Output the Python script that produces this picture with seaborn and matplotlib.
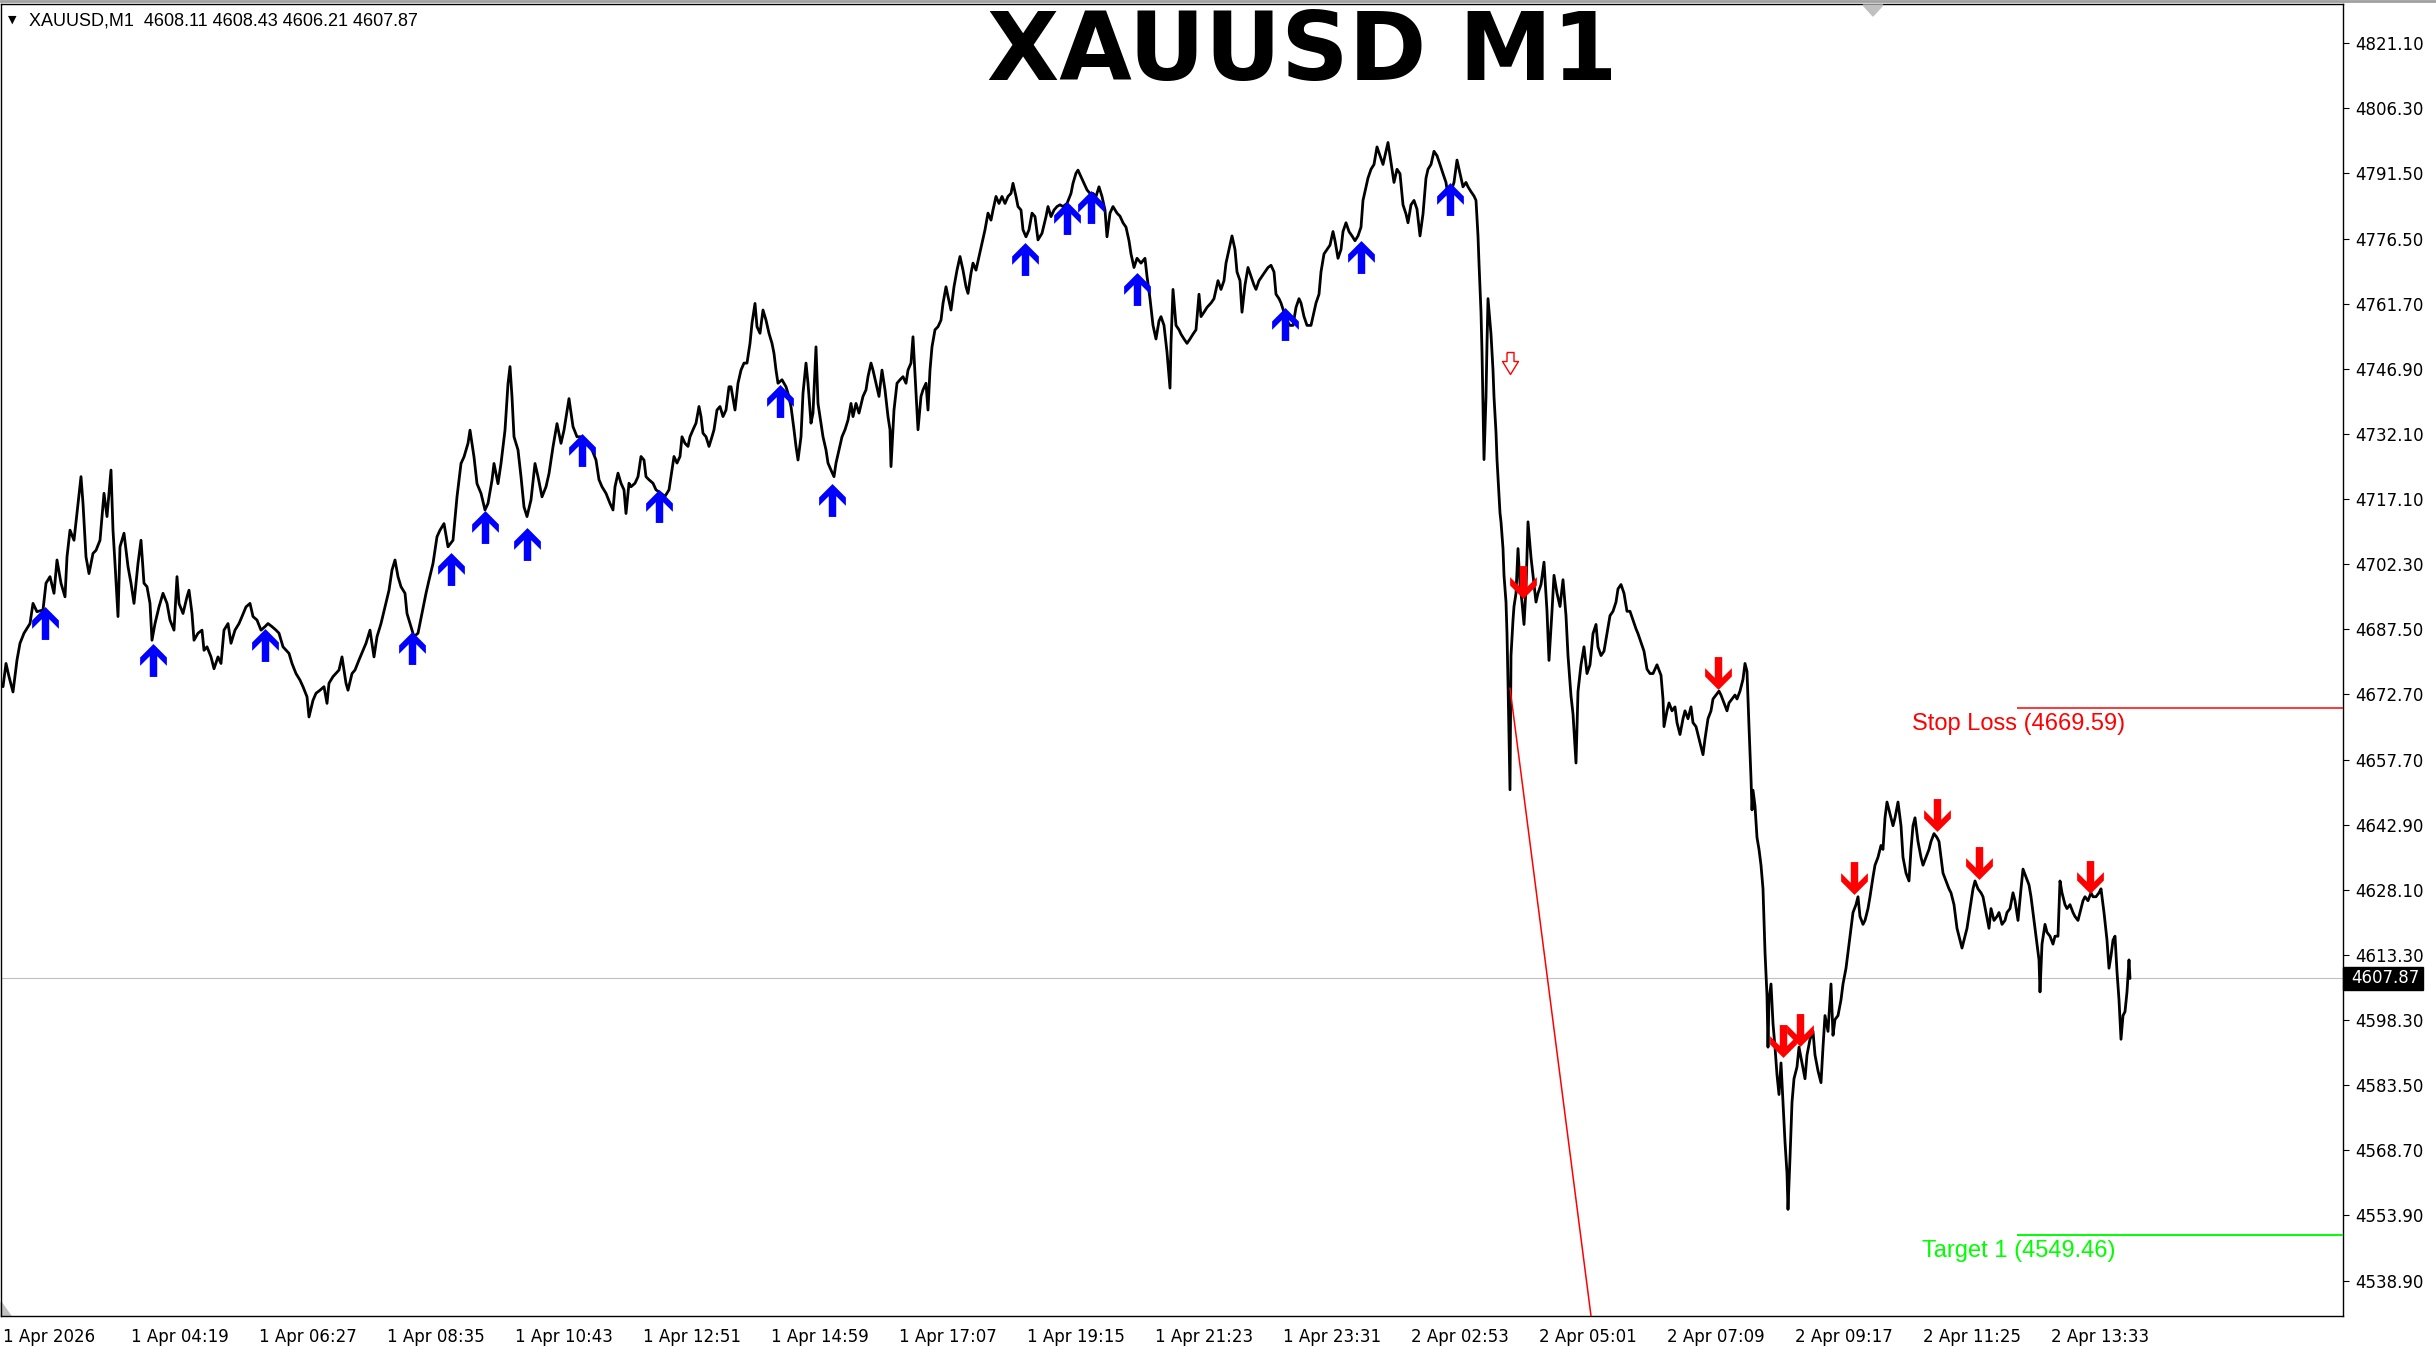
import numpy as np
import matplotlib
matplotlib.use("Agg")
import matplotlib.pyplot as plt
import matplotlib.transforms as mtransforms
from matplotlib.lines import Line2D
from matplotlib.patches import Rectangle, Polygon
import seaborn as sns

# M1 closes (x = bar index, one bar per minute)
bars_a = [0, 3, 6, 10, 14, 17, 21, 27, 30, 34, 40, 43, 47, 51, 54, 58, 62, 64, 67, 71, 75, 78, 80, 83, 86,
          90, 93, 97, 101, 104, 108, 110, 112, 115, 117, 121, 125, 128, 131, 135, 138, 141, 144, 147, 149,
          152, 156, 160, 164, 167, 171, 174, 176, 180, 184, 186, 189, 191, 195, 199, 201, 204, 208, 211,
          215, 218, 221, 225, 228, 232, 236, 239, 243, 247, 250, 254, 258, 262, 265, 269, 273, 276, 280,
          286, 289, 293, 297, 300, 304, 306, 310, 313, 317, 321, 324, 326, 330, 336, 339, 343, 345, 349,
          352, 356, 360, 363, 367, 371, 374, 378, 382, 386, 389, 392, 395, 398, 402, 404, 408, 411, 415,
          419, 423, 426, 430, 434, 437, 441, 445, 450, 454, 458, 461, 465, 467, 471, 474, 478, 482, 485,
          489, 491, 495, 498, 502, 505, 507, 509, 511, 515, 518, 521, 524, 528, 532, 535, 539, 543, 546,
          550, 554, 558, 561, 566, 570, 574]
price_a = [4674.4, 4679.7, 4676.7, 4673.2, 4680.5, 4684.3, 4686.6, 4688.8, 4693.4, 4691.5, 4691.9, 4698.0,
           4699.5, 4695.7, 4703.3, 4698.0, 4694.9, 4704.0, 4710.1, 4707.8, 4716.2, 4722.3, 4716.2, 4704.0,
           4700.2, 4704.8, 4705.5, 4707.8, 4718.5, 4713.2, 4723.8, 4710.1, 4702.5, 4690.4, 4706.3, 4709.4,
           4701.8, 4698.0, 4693.4, 4702.5, 4707.8, 4698.0, 4697.2, 4693.4, 4685.0, 4688.8, 4692.6, 4695.7,
           4693.4, 4689.6, 4687.3, 4699.5, 4693.4, 4691.1, 4694.9, 4696.4, 4691.1, 4685.0, 4686.6, 4687.3,
           4682.7, 4683.5, 4681.2, 4678.5, 4681.2, 4679.7, 4687.3, 4688.8, 4684.3, 4687.3, 4688.8, 4690.4,
           4692.6, 4693.4, 4690.4, 4689.6, 4687.3, 4688.1, 4688.8, 4688.1, 4687.3, 4686.6, 4683.5, 4682.0,
           4679.7, 4677.4, 4675.9, 4674.4, 4672.1, 4667.5, 4671.3, 4672.9, 4673.6, 4674.4, 4670.6, 4675.2,
           4676.7, 4678.2, 4681.2, 4675.2, 4673.6, 4677.4, 4678.2, 4680.5, 4682.7, 4684.3, 4687.3, 4681.2,
           4685.8, 4688.8, 4692.6, 4696.4, 4701.0, 4703.3, 4699.5, 4697.2, 4695.7, 4691.1, 4688.1, 4685.8,
           4686.6, 4691.1, 4695.7, 4698.7, 4702.5, 4708.6, 4710.1, 4711.6, 4706.3, 4707.8, 4717.7, 4725.3,
           4726.8, 4729.9, 4732.9, 4726.8, 4720.7, 4718.5, 4714.7, 4716.2, 4721.5, 4725.3, 4720.7, 4725.3,
           4732.9, 4743.5, 4747.4, 4740.5, 4731.4, 4728.4, 4722.3, 4715.4, 4713.2, 4717.0, 4725.3, 4722.3,
           4717.7, 4720.0, 4723.0, 4729.1, 4734.4, 4729.9, 4732.9, 4740.1, 4733.7, 4731.4]

bars_b = [578, 584, 589, 593, 596, 599, 603, 607, 610, 612, 615, 618, 621, 623, 626, 628, 632, 635, 638,
          641, 643, 646, 650, 653, 658, 662, 666, 668, 671, 674, 677, 679, 682, 685, 687, 690, 693, 696,
          698, 700, 703, 706, 709, 711, 714, 717, 720, 723, 726, 728, 732, 735, 738, 741, 744, 747, 749,
          752, 754, 757, 760, 763, 766, 769, 771, 773, 775, 779, 783, 785, 788, 791, 793, 795, 798, 800,
          803, 805, 808, 810, 813, 815, 818, 820, 823, 825, 828, 831, 833, 836, 839, 842, 845, 848, 850,
          853, 856, 860, 863, 865, 868, 870, 873, 876, 879, 882, 885, 887, 888, 891, 894, 897, 900, 903,
          905, 908, 910, 913, 915, 918, 920, 923, 925, 927, 929, 932, 935, 938, 940, 943, 945, 948, 951,
          954, 957, 960, 963, 965, 968, 970, 973, 976, 979, 982, 985, 988, 990, 993, 996, 999, 1002, 1005,
          1008, 1010, 1013, 1015, 1018, 1020, 1023, 1026, 1029, 1032, 1035, 1039, 1043, 1045, 1048, 1051,
          1054, 1057, 1060, 1064, 1068, 1070, 1073, 1075, 1078, 1081, 1084, 1087, 1090, 1093, 1096, 1099,
          1102, 1104, 1107, 1110, 1114]
price_b = [4731.4, 4729.9, 4728.4, 4726.1, 4721.6, 4720.0, 4718.5, 4716.2, 4714.7, 4720.0, 4723.1, 4720.8,
           4719.3, 4713.9, 4720.8, 4720.0, 4720.8, 4722.3, 4726.9, 4726.1, 4722.3, 4721.6, 4720.8, 4719.3,
           4718.5, 4717.8, 4719.3, 4722.3, 4726.9, 4725.4, 4726.9, 4731.4, 4729.9, 4729.2, 4731.4, 4733.0,
           4734.5, 4738.3, 4736.0, 4732.2, 4731.4, 4729.2, 4731.4, 4733.0, 4737.5, 4738.3, 4736.0, 4737.5,
           4742.8, 4742.8, 4737.5, 4743.6, 4746.6, 4748.2, 4748.2, 4752.7, 4757.3, 4761.8, 4756.5, 4755.0,
           4760.3, 4758.0, 4755.0, 4752.7, 4750.4, 4746.6, 4743.6, 4744.4, 4742.8, 4741.3, 4738.3, 4733.0,
           4729.2, 4726.1, 4731.4, 4741.3, 4748.2, 4743.6, 4734.5, 4736.8, 4751.9, 4739.0, 4734.5, 4731.4,
           4728.4, 4725.4, 4723.8, 4722.3, 4725.4, 4728.4, 4731.4, 4733.0, 4735.2, 4739.0, 4736.0, 4739.0,
           4736.8, 4740.6, 4742.1, 4745.1, 4748.2, 4746.6, 4743.6, 4740.6, 4746.6, 4742.1, 4736.0, 4733.0,
           4724.6, 4737.5, 4743.6, 4744.4, 4745.1, 4743.6, 4746.6, 4748.2, 4754.2, 4741.3, 4733.0, 4740.6,
           4742.1, 4743.6, 4737.5, 4746.6, 4751.9, 4755.8, 4756.5, 4758.0, 4761.8, 4765.6, 4763.4, 4760.3,
           4765.6, 4769.4, 4772.5, 4769.4, 4765.6, 4764.1, 4768.7, 4771.0, 4769.4, 4772.5, 4775.5, 4778.6,
           4782.4, 4780.8, 4783.1, 4786.2, 4784.6, 4786.2, 4784.6, 4786.2, 4786.9, 4789.2, 4786.2, 4783.9,
           4783.1, 4778.6, 4777.0, 4778.6, 4782.4, 4781.6, 4776.3, 4777.8, 4781.6, 4783.9, 4781.6, 4783.1,
           4783.9, 4784.3, 4783.9, 4784.6, 4786.9, 4789.2, 4791.5, 4792.2, 4790.7, 4789.2, 4787.7, 4786.9,
           4786.9, 4786.2, 4788.4, 4786.2, 4783.1, 4777.0, 4782.4, 4783.9, 4782.4]

bars_c = [1117, 1120, 1123, 1126, 1128, 1131, 1134, 1138, 1142, 1144, 1147, 1150, 1153, 1156, 1158, 1161,
          1164, 1167, 1168, 1170, 1173, 1176, 1178, 1181, 1184, 1187, 1190, 1193, 1196, 1198, 1201, 1204,
          1208, 1211, 1215, 1218, 1221, 1223, 1226, 1229, 1232, 1234, 1237, 1239, 1242, 1245, 1248, 1251,
          1253, 1256, 1259, 1262, 1265, 1268, 1271, 1273, 1276, 1278, 1281, 1284, 1287, 1290, 1293, 1296,
          1298, 1301, 1304, 1308, 1310, 1313, 1316, 1318, 1321, 1324, 1327, 1330, 1332, 1335, 1338, 1340,
          1343, 1346, 1349, 1352, 1355, 1358, 1360, 1363, 1365, 1368, 1371, 1374, 1377, 1380, 1383, 1385,
          1387, 1389, 1391, 1394, 1397, 1400, 1403, 1405, 1408, 1411, 1414, 1417, 1420, 1423, 1425, 1428,
          1431, 1434, 1437, 1440, 1443, 1445, 1448, 1451, 1454, 1457, 1460, 1463, 1465, 1468, 1471, 1473,
          1475, 1476, 1478, 1479, 1480, 1481, 1483, 1484, 1485, 1488, 1490, 1491, 1493, 1494, 1495, 1497,
          1498, 1500, 1501, 1503, 1504, 1505, 1507, 1508, 1510, 1511, 1513, 1515, 1517, 1519, 1521, 1523,
          1525, 1528, 1530, 1533, 1535, 1538, 1541, 1544, 1546, 1549, 1551, 1554, 1557, 1560, 1563, 1565,
          1568, 1570, 1573, 1575, 1578, 1581, 1584, 1587, 1590, 1593, 1595, 1598, 1601, 1604, 1607, 1610,
          1613, 1615, 1618, 1621, 1624, 1627, 1630, 1633, 1635, 1638, 1641, 1644, 1647, 1650, 1654]
price_c = [4781.7, 4780.2, 4779.2, 4776.1, 4773.1, 4770.0, 4772.1, 4771.0, 4772.1, 4768.0, 4762.9, 4756.8,
           4753.7, 4757.8, 4758.8, 4756.8, 4750.7, 4742.5, 4752.7, 4765.0, 4756.8, 4755.8, 4754.8, 4753.7,
           4752.7, 4753.7, 4754.8, 4755.8, 4763.9, 4758.8, 4759.8, 4760.9, 4761.9, 4762.9, 4767.0, 4765.0,
           4767.0, 4771.0, 4774.1, 4777.2, 4774.1, 4769.0, 4767.0, 4759.8, 4766.0, 4770.0, 4768.0, 4766.0,
           4765.0, 4767.0, 4768.0, 4769.0, 4770.0, 4770.5, 4769.0, 4763.9, 4762.9, 4761.9, 4759.8, 4757.8,
           4756.8, 4756.8, 4760.9, 4762.9, 4761.9, 4758.8, 4756.8, 4756.8, 4758.8, 4761.9, 4763.9, 4769.0,
           4773.1, 4774.1, 4775.1, 4778.2, 4776.1, 4772.1, 4774.1, 4778.2, 4780.2, 4778.2, 4777.2, 4776.1,
           4777.2, 4779.2, 4785.3, 4788.4, 4790.4, 4792.4, 4793.5, 4797.5, 4795.5, 4793.5, 4796.5, 4798.5,
           4795.5, 4792.4, 4789.4, 4792.4, 4791.4, 4784.3, 4782.2, 4780.2, 4784.3, 4785.3, 4783.3, 4777.2,
           4782.2, 4790.4, 4792.4, 4793.5, 4796.5, 4795.5, 4793.5, 4791.4, 4789.4, 4786.3, 4787.3, 4789.4,
           4794.5, 4791.4, 4788.4, 4789.4, 4788.4, 4787.3, 4786.3, 4785.3, 4777.2, 4771.0, 4759.8, 4750.7,
           4738.5, 4726.2, 4740.5, 4752.7, 4762.9, 4754.8, 4746.6, 4740.5, 4732.4, 4726.2, 4722.2, 4714.0,
           4712.0, 4705.9, 4699.8, 4693.7, 4686.5, 4675.4, 4650.9, 4681.5, 4689.6, 4692.7, 4695.7, 4705.9,
           4697.7, 4693.7, 4688.6, 4696.7, 4712.0, 4703.9, 4699.8, 4693.7, 4695.7, 4697.7, 4702.8, 4691.6,
           4680.4, 4691.6, 4699.8, 4695.7, 4692.7, 4698.8, 4690.6, 4681.5, 4672.3, 4668.2, 4657.0, 4673.3,
           4679.4, 4683.5, 4677.4, 4679.4, 4686.5, 4688.6, 4683.5, 4681.5, 4682.5, 4686.5, 4690.6, 4691.6,
           4693.7, 4696.7, 4697.7, 4695.7, 4691.6, 4691.6, 4689.6, 4687.6, 4686.5, 4684.5, 4682.5, 4678.4,
           4677.4, 4677.4, 4679.4]

bars_d = [1658, 1660, 1661, 1664, 1666, 1669, 1672, 1674, 1677, 1680, 1682, 1685, 1688, 1690, 1693, 1696,
          1698, 1700, 1702, 1705, 1708, 1710, 1713, 1716, 1718, 1721, 1724, 1726, 1729, 1732, 1734, 1737,
          1740, 1742, 1744, 1745, 1746, 1748, 1749, 1750, 1752, 1754, 1756, 1758, 1760, 1761, 1762, 1764,
          1765, 1766, 1768, 1770, 1772, 1774, 1776, 1778, 1780, 1782, 1784, 1785, 1787, 1789, 1791, 1794,
          1796, 1799, 1802, 1804, 1807, 1810, 1812, 1815, 1818, 1820, 1822, 1825, 1828, 1830, 1832, 1835,
          1838, 1840, 1843, 1846, 1848, 1850, 1853, 1855, 1857, 1860, 1862, 1865, 1867, 1870, 1872, 1875,
          1878, 1880, 1882, 1884, 1887, 1890, 1892, 1895, 1898, 1900, 1903, 1906, 1908, 1910, 1912, 1915,
          1918, 1920, 1923, 1926, 1928, 1931, 1934, 1936, 1938, 1940, 1943, 1946, 1948, 1951, 1954, 1956,
          1959, 1962, 1964, 1967, 1970, 1972, 1975, 1978, 1980, 1983, 1986, 1988, 1991, 1994, 1996, 1999,
          2002, 2004, 2007, 2010, 2012, 2015, 2018, 2020, 2023, 2026, 2028, 2031, 2034, 2036, 2037, 2039,
          2042, 2044, 2047, 2050, 2052, 2055, 2057, 2059, 2062, 2064, 2067, 2070, 2072, 2075, 2077, 2080,
          2082, 2085, 2088, 2090, 2093, 2096, 2098, 2101, 2104, 2106, 2108, 2110, 2112, 2114, 2116, 2118,
          2120, 2122, 2124, 2126, 2127]
price_d = [4677.0, 4671.6, 4665.3, 4668.9, 4670.7, 4668.9, 4669.8, 4666.2, 4663.5, 4667.1, 4668.9, 4667.1,
           4669.8, 4666.2, 4665.3, 4662.5, 4660.7, 4658.9, 4662.5, 4667.1, 4668.9, 4671.6, 4672.5, 4673.4,
           4672.5, 4670.7, 4668.9, 4670.7, 4671.6, 4672.5, 4671.6, 4673.4, 4676.1, 4679.7, 4677.9, 4671.6,
           4665.3, 4653.5, 4646.3, 4650.8, 4647.2, 4640.0, 4637.3, 4633.7, 4628.3, 4621.1, 4613.9, 4603.9,
           4592.2, 4603.0, 4606.6, 4597.6, 4592.2, 4585.9, 4581.4, 4588.6, 4579.6, 4570.6, 4563.4, 4555.2,
           4567.0, 4579.6, 4585.0, 4587.7, 4592.2, 4588.6, 4585.0, 4590.4, 4594.0, 4595.8, 4590.4, 4586.8,
           4584.1, 4592.2, 4599.4, 4595.8, 4606.6, 4594.9, 4598.5, 4599.4, 4603.0, 4606.6, 4610.2, 4615.7,
           4619.3, 4622.9, 4624.7, 4626.5, 4622.0, 4620.2, 4621.1, 4623.8, 4626.5, 4631.0, 4633.7, 4635.5,
           4638.2, 4637.3, 4644.5, 4648.1, 4645.4, 4642.7, 4644.5, 4648.1, 4642.7, 4635.5, 4631.9, 4630.1,
           4637.3, 4642.7, 4644.5, 4639.1, 4635.5, 4633.7, 4635.5, 4637.3, 4639.1, 4640.9, 4640.0, 4639.1,
           4635.5, 4631.9, 4630.1, 4628.3, 4627.4, 4624.7, 4619.3, 4617.5, 4614.8, 4617.5, 4619.3, 4623.8,
           4628.3, 4630.1, 4628.3, 4627.4, 4626.5, 4622.9, 4619.3, 4623.8, 4621.1, 4622.0, 4622.9, 4620.2,
           4621.1, 4622.9, 4623.8, 4627.4, 4625.6, 4621.1, 4628.3, 4632.8, 4631.0, 4629.2, 4626.5, 4621.1,
           4615.7, 4612.1, 4604.8, 4615.7, 4620.2, 4618.4, 4617.5, 4615.7, 4617.5, 4617.5, 4630.1, 4627.4,
           4624.7, 4623.8, 4624.7, 4622.9, 4622.0, 4621.1, 4622.9, 4625.6, 4626.5, 4625.6, 4627.4, 4626.5,
           4626.5, 4627.4, 4628.3, 4622.9, 4616.6, 4610.2, 4613.0, 4616.6, 4617.5, 4609.4, 4603.0, 4594.0,
           4599.4, 4600.3, 4604.8, 4612.1, 4607.87]

# buy / sell signal arrows
up_bar = [42, 150, 262, 409, 448, 482, 524, 579, 656, 777, 829, 1022, 1064, 1088, 1134, 1282, 1358, 1447]
up_price = [4688.9, 4680.5, 4683.9, 4683.2, 4701.2, 4710.8, 4706.9, 4728.3, 4715.6, 4739.6, 4717.0,
            4771.9, 4781.4, 4783.7, 4765.0, 4757.1, 4772.4, 4785.6]
down_bar = [1520, 1715, 1780, 1797, 1851, 1934, 1976, 2087]
down_price = [4698.3, 4677.6, 4593.5, 4596.1, 4630.7, 4645.1, 4634.3, 4631.0]
hollow_bar = [1507]
hollow_price = [4748.3]

# trend line and levels
trend_bar = [1507, 1600]
trend_price = [4674.1, 4509.7]
stop_loss = 4669.59
target_1 = 4549.46
level_start_bar = 2014
header_ohlc = [4608.11, 4608.43, 4606.21, 4607.87]
last_close = 4607.87

y_ticks = [4821.10, 4806.30, 4791.50, 4776.50, 4761.70, 4746.90, 4732.10, 4717.10, 4702.30, 4687.50,
           4672.70, 4657.70, 4642.90, 4628.10, 4613.30, 4598.30, 4583.50, 4568.70, 4553.90, 4538.90]
x_labels = ["1 Apr 2026", "1 Apr 04:19", "1 Apr 06:27", "1 Apr 08:35", "1 Apr 10:43", "1 Apr 12:51",
            "1 Apr 14:59", "1 Apr 17:07", "1 Apr 19:15", "1 Apr 21:23", "1 Apr 23:31", "2 Apr 02:53",
            "2 Apr 05:01", "2 Apr 07:09", "2 Apr 09:17", "2 Apr 11:25", "2 Apr 13:33"]
label_step = 128

bars = bars_a + bars_b + bars_c + bars_d
prices = price_a + price_b + price_c + price_d

sns.set_style("white")
plt.rcParams['font.family'] = ['DejaVu Sans']

W, H = 2436, 1348
fig = plt.figure(figsize=(W / 100, H / 100), dpi=100)
fig.patch.set_facecolor("white")
ax = fig.add_axes([1 / W, (H - 1316) / H, 2342 / W, 1312 / H])

ax.axhline(last_close, color="#C0C0C0", lw=0.8, zorder=1)
sns.lineplot(x=bars, y=prices, ax=ax, color="black", linewidth=2.0, estimator=None, sort=False, zorder=2)
ax.plot(trend_bar, trend_price, color="#FF0000", lw=1.1, zorder=3)

ax.hlines(stop_loss, level_start_bar, 2400, color="#FF0000", lw=1.1, zorder=3)
ax.hlines(target_1, level_start_bar, 2400, color="#00FF00", lw=1.4, zorder=3)
# labels sit just under their level lines
ax.annotate(f"Stop Loss ({stop_loss:.2f})", (2122, stop_loss), xytext=(0, -4), textcoords="offset points",
            color="#FF0000", fontsize=17, family="Liberation Sans", ha="right", va="top")
ax.annotate(f"Target 1 ({target_1:.2f})", (2113, target_1), xytext=(0, -4), textcoords="offset points",
            color="#00FF00", fontsize=17, family="Liberation Sans", ha="right", va="top")

# arrow shapes (chevron head + shaft)
up_shape = [(0, 16.35), (13.3, 3.0), (13.3, -5.3), (3.7, 4.3), (3.7, -16.35),
            (-3.7, -16.35), (-3.7, 4.3), (-13.3, -5.3), (-13.3, 3.0), (0, 16.35)]
down_shape = [(x, -y) for x, y in up_shape]
hollow_shape = [(-3.5, 11), (3.5, 11), (3.5, 2), (8, 2), (0, -11), (-8, 2), (-3.5, 2), (-3.5, 11)]

ax.scatter(up_bar, up_price, marker=up_shape, s=560, c="#0000FF", linewidths=0, zorder=4)
ax.scatter(down_bar, down_price, marker=down_shape, s=560, c="#FF0000", linewidths=0, zorder=4)
ax.scatter(hollow_bar, hollow_price, marker=hollow_shape, s=250, facecolors="white",
           edgecolors="#FF0000", linewidths=1.0, zorder=4)

ax.set_xlim(-2, 2340)
ax.set_ylim(4530.89, 4830.09)
ax.set_xlabel("")
ax.set_ylabel("")

ax.set_xticks([i * label_step for i in range(len(x_labels))])
ax.set_xticklabels(x_labels)
for lbl in ax.get_xticklabels():
    lbl.set_horizontalalignment("left")
ax.yaxis.tick_right()
ax.set_yticks(y_ticks)
ax.set_yticklabels([f"{v:.2f}" for v in y_ticks])
ax.tick_params(axis="both", direction="out", length=4, width=0.8, color="black",
               labelsize=12, labelcolor="black")
ax.tick_params(axis="x", pad=5)
ax.tick_params(axis="y", pad=5)
for sp in ax.spines.values():
    sp.set_color("black")
    sp.set_linewidth(1.0)

# current price tag on the axis
blend = mtransforms.blended_transform_factory(ax.transAxes, ax.transData)
ax.add_patch(Rectangle((1.0, last_close - 2.62), 80 / 2342, 5.25, transform=blend,
                       facecolor="black", edgecolor="black", clip_on=False, zorder=5))
ax.text(1.0 + 8 / 2342, last_close, f"{last_close:.2f}", transform=blend, color="white",
        fontsize=12, va="center", ha="left", clip_on=False, zorder=6)

# window decorations
fig.add_artist(Line2D([0, 1], [1 - 1 / H, 1 - 1 / H], color="#A0A0A0", lw=2, transform=fig.transFigure))
fig.add_artist(Polygon([(1863 / W, 1 - 5 / H), (1883 / W, 1 - 5 / H), (1873 / W, 1 - 16 / H)],
                       closed=True, color="#C0C0C0", transform=fig.transFigure))
ax.add_patch(Polygon([(0, 0), (10 / 2342, 0), (0, 14 / 1312)], closed=True, color="#C0C0C0",
                     transform=ax.transAxes, clip_on=False))

fig.text(8 / W, 1 - 23 / H, "\u25bc", fontsize=8, color="black")
header = "XAUUSD,M1  " + " ".join(f"{v:.2f}" for v in header_ohlc)
fig.text(29 / W, 1 - 26 / H, header, fontsize=13, family="Liberation Sans", va="baseline", color="black")
fig.text(1302 / W, 1 - 80 / H, "XAUUSD M1", fontsize=67.5, weight="bold", ha="center",
         va="baseline", color="black")

fig.savefig("out.png", dpi=100, facecolor="white")
